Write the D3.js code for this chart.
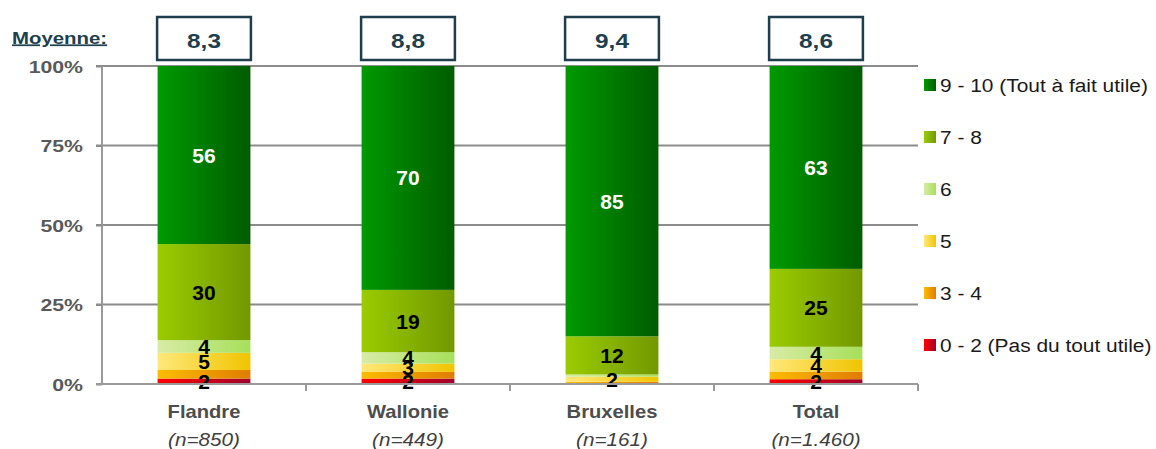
<!DOCTYPE html>
<html><head><meta charset="utf-8">
<script src="https://cdn.jsdelivr.net/npm/d3@7"></script>
<style>
html,body{margin:0;padding:0;background:#fff;}
svg{display:block;font-family:"Liberation Sans",Arial,sans-serif;}
</style></head>
<body><svg id="c" width="1156" height="449"></svg>
<script>
// ---- data ----
const categories = ["Flandre","Wallonie","Bruxelles","Total"];
const sampleSizes = ["(n=850)","(n=449)","(n=161)","(n=1.460)"];
const means = ["8,3","8,8","9,4","8,6"];
const seriesNames = ["0 - 2 (Pas du tout utile)","3 - 4","5","6","7 - 8","9 - 10 (Tout à fait utile)"];
const s0_2  = [1.7, 1.7, 0.0, 1.5];
const s3_4  = [2.7, 2.1, 0.7, 2.4];
const s5    = [5.4, 2.6, 1.6, 3.9];
const s6    = [4.0, 3.6, 0.7, 3.9];
const s7_8  = [30.2, 19.6, 12.0, 24.5];
const s9_10 = [56.0, 70.4, 85.0, 63.8];
const lab0_2  = ["2","2","","2"];
const lab3_4  = ["","","",""];
const lab5    = ["5","3","2","4"];
const lab6    = ["4","4","","4"];
const lab7_8  = ["30","19","12","25"];
const lab9_10 = ["56","70","85","63"];
const yTicks = [0,25,50,75,100];

const seriesValues = [s0_2,s3_4,s5,s6,s7_8,s9_10];
const seriesLabels = [lab0_2,lab3_4,lab5,lab6,lab7_8,lab9_10];
const gradStops = [
  ["#ff0000","#a0002c"],
  ["#fbbd00","#e07c00"],
  ["#ffe87a","#f0c400"],
  ["#d8eba6","#a6e05a"],
  ["#9acc00","#729800"],
  ["#009a00","#005c00"]
];
const labelColors = ["#000","#000","#000","#000","#000","#fff"];

const svg = d3.select("#c");
const defs = svg.append("defs");
gradStops.forEach((g,i)=>{
  const lg = defs.append("linearGradient").attr("id","g"+i).attr("x1","0%").attr("x2","100%").attr("y1","0%").attr("y2","0%");
  lg.append("stop").attr("offset","0%").attr("stop-color",g[0]);
  lg.append("stop").attr("offset","100%").attr("stop-color",g[1]);
});

// helper: horizontally stretched text
function stext(parent, px, py, sx){
  return parent.append("text").attr("transform",`translate(${px},${py}) scale(${sx},1)`);
}

const x = d3.scaleBand().domain(categories).range([102,918]).paddingInner(0.545).paddingOuter(0.2725);
const y = d3.scaleLinear().domain([0,100]).range([384,66]);

// gridlines
svg.append("g").selectAll("line").data(yTicks.filter(d=>d>0)).join("line")
  .attr("x1",96).attr("x2",918).attr("y1",d=>y(d)).attr("y2",d=>y(d))
  .attr("stroke","#8c8c8c").attr("stroke-width",2);

// y axis
const yAxis = svg.append("g").attr("transform","translate(102,0)")
  .call(d3.axisLeft(y).tickValues(yTicks).tickSize(6).tickFormat(d=>d+"%"));
yAxis.select(".domain").attr("stroke","#9a9a9a").attr("stroke-width",2).attr("d","M0,66V384");
yAxis.selectAll(".tick line").attr("stroke","#8c8c8c").attr("stroke-width",2);
yAxis.selectAll(".tick text")
  .attr("x",null).attr("dy",null)
  .attr("transform","translate(-19,6.3) scale(1.25,1)")
  .attr("font-size","17px").attr("font-weight","bold").attr("fill","#595959")
  .attr("font-family","Liberation Sans, Arial, sans-serif");

// stacked bars
const stackData = categories.map((c,ci)=>{
  let acc=0; return seriesValues.map((s,si)=>{const y0=acc; acc+=s[ci]; return {ci,si,y0,y1:acc,label:seriesLabels[si][ci]};});
});
const barG = svg.append("g");
stackData.forEach((segs,ci)=>{
  barG.selectAll(null).data(segs.filter(d=>d.y1>d.y0)).join("rect")
    .attr("x",x(categories[ci])).attr("width",x.bandwidth())
    .attr("y",d=>y(d.y1)).attr("height",d=>y(d.y0)-y(d.y1))
    .attr("fill",d=>`url(#g${d.si})`);
});

// x axis
const xAxisG = svg.append("g");
xAxisG.append("line").attr("x1",96).attr("x2",918).attr("y1",384).attr("y2",384)
  .attr("stroke","#9a9a9a").attr("stroke-width",2);
const bounds = [0,1,2,3,4].map(i=>102 + i*x.step());
xAxisG.selectAll("line.t").data(bounds.slice(1)).join("line").attr("class","t")
  .attr("x1",d=>d).attr("x2",d=>d).attr("y1",384).attr("y2",391)
  .attr("stroke","#9a9a9a").attr("stroke-width",2);
const catG = svg.append("g");
categories.forEach((c,i)=>{
  stext(catG, x(c)+x.bandwidth()/2, 417.5, 1.14).attr("text-anchor","middle")
    .attr("font-size","17.7px").attr("font-weight","bold").attr("fill","#4d4d4d").text(c);
  stext(catG, x(c)+x.bandwidth()/2, 445.5, 1.15).attr("text-anchor","middle")
    .attr("font-size","18px").attr("font-style","italic").attr("fill","#404040").text(sampleSizes[i]);
});

// segment labels
stackData.forEach((segs,ci)=>{
  barG.selectAll(null).data(segs.filter(d=>d.label!=="")).join("text")
    .attr("x",x(categories[ci])+x.bandwidth()/2).attr("y",d=>y((d.y0+d.y1)/2))
    .attr("dy","0.36em").attr("text-anchor","middle")
    .attr("font-size","21px").attr("font-weight","bold")
    .attr("fill",d=>labelColors[d.si]).text(d=>d.label);
});

// means
stext(svg, 12, 43.5, 1.2).attr("font-size","17px").attr("font-weight","bold")
  .attr("fill","#1d3f4e").attr("text-decoration","underline").text("Moyenne:");
const mg = svg.append("g");
means.forEach((m,i)=>{
  mg.append("rect").attr("x",x(categories[i])-0.5).attr("y",17).attr("width",x.bandwidth()+1).attr("height",43)
    .attr("fill","#fff").attr("stroke","#1f3d4b").attr("stroke-width",2.5);
  stext(mg, x(categories[i])+x.bandwidth()/2, 48.3, 1.22).attr("text-anchor","middle")
    .attr("font-size","20px").attr("font-weight","bold").attr("fill","#1d3f4e").text(m);
});

// legend
const legOrder = [5,4,3,2,1,0];
const lg = svg.append("g").selectAll("g").data(legOrder).join("g")
  .attr("transform",(d,i)=>`translate(924,${85+i*52})`);
lg.append("rect").attr("x",0).attr("y",-6).attr("width",12).attr("height",12).attr("fill",d=>`url(#g${d})`);
lg.append("text").attr("transform","translate(16,6.8) scale(1.1,1)").attr("font-size","19px").attr("fill","#1a1a1a")
  .text(d=>seriesNames[d]);
</script></body></html>
